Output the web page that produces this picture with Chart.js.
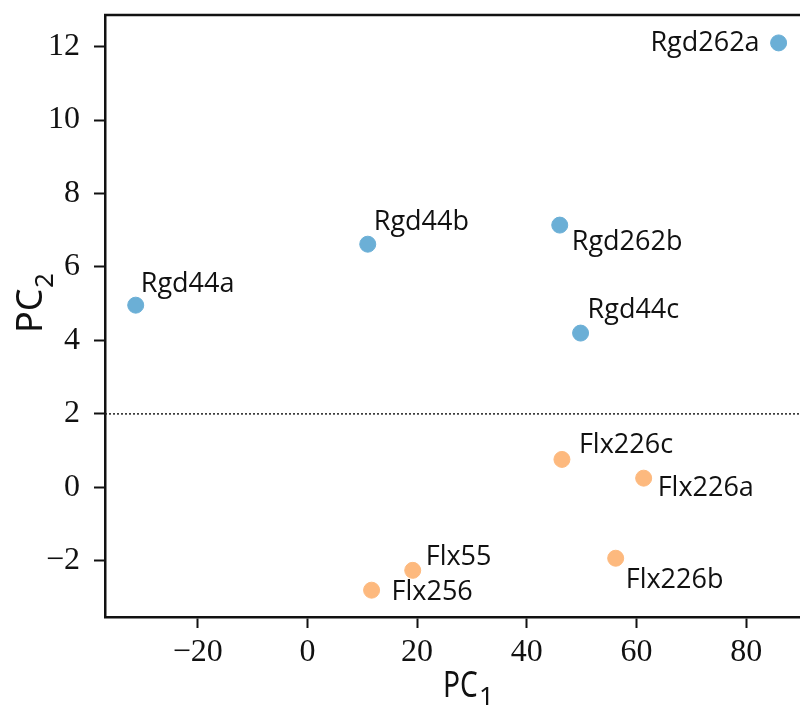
<!DOCTYPE html>
<html lang="en">
<head>
<meta charset="UTF-8">
<title>PCA scatter</title>
<script src="https://cdn.jsdelivr.net/npm/chart.js"></script>
<style>
  html, body { margin: 0; padding: 0; background: #fff; }
  #wrap { width: 800px; height: 706px; position: relative; }
</style>
</head>
<body>
<div id="wrap"><canvas id="pcaChart"></canvas></div>

<script>
// samples and their first two principal components
const rgdNames = ['Rgd262a', 'Rgd44b', 'Rgd262b', 'Rgd44a', 'Rgd44c'];
const rgdPC1   = [85.9, 11.0, 46.0, -31.3, 49.8];
const rgdPC2   = [12.1, 6.62, 7.14, 4.96, 4.2];

const flxNames = ['Flx226c', 'Flx226a', 'Flx226b', 'Flx55', 'Flx256'];
const flxPC1   = [46.4, 61.3, 56.2, 19.2, 11.7];
const flxPC2   = [0.76, 0.25, -1.93, -2.26, -2.8];

const threshold = 2.0;
const xTicks = [-20, 0, 20, 40, 60, 80];
const yTicks = [-2, 0, 2, 4, 6, 8, 10, 12];

// where each label sits relative to its point (px)
const labelOffset = {
  Rgd262a: [-19, 0, 'right'],
  Rgd44b:  [6, -22, 'left'],
  Rgd262b: [12, 17, 'left'],
  Rgd44a:  [5, -21, 'left'],
  Rgd44c:  [7, -23, 'left'],
  Flx226c: [17, -14, 'left'],
  Flx226a: [14, 10, 'left'],
  Flx226b: [10, 22, 'left'],
  Flx55:   [13, -13, 'left'],
  Flx256:  [20, 2, 'left']
};

const toPoints = (xs, ys) => xs.map((x, i) => ({ x: x, y: ys[i] }));

const labelPlugin = {
  id: 'pointLabels',
  afterDatasetsDraw(chart) {
    const ctx = chart.ctx;
    ctx.save();
    ctx.font = '27px "Open Sans", sans-serif';
    ctx.fillStyle = '#111';
    ctx.textBaseline = 'middle';
    chart.data.datasets.forEach((ds, di) => {
      const meta = chart.getDatasetMeta(di);
      meta.data.forEach((pt, i) => {
        const name = ds.names[i];
        const off = labelOffset[name];
        ctx.textAlign = off[2];
        ctx.fillText(name, pt.x + off[0], pt.y + off[1]);
      });
    });
    ctx.restore();
  }
};

const framePlugin = {
  id: 'frame',
  beforeDatasetsDraw(chart) {
    const { ctx, chartArea, scales } = chart;
    ctx.save();
    // dotted separation line
    const y = scales.y.getPixelForValue(threshold);
    ctx.strokeStyle = '#222';
    ctx.lineWidth = 1.5;
    ctx.setLineDash([2, 2]);
    ctx.beginPath();
    ctx.moveTo(chartArea.left, y);
    ctx.lineTo(chartArea.right, y);
    ctx.stroke();
    // top spine
    ctx.setLineDash([]);
    ctx.lineWidth = 2.5;
    ctx.strokeStyle = '#111';
    ctx.beginPath();
    ctx.moveTo(chartArea.left - 1, chartArea.top);
    ctx.lineTo(chartArea.right, chartArea.top);
    ctx.stroke();
    ctx.restore();
  },
  afterDraw(chart) {
    const ctx = chart.ctx;
    ctx.save();
    ctx.fillStyle = '#111';
    ctx.textBaseline = 'alphabetic';
    ctx.textAlign = 'left';
    // x title PC1
    ctx.save();
    ctx.translate(443, 697);
    ctx.scale(0.76, 1);
    ctx.font = '37px "Noto Sans", sans-serif';
    ctx.fillText('PC', 0, 0);
    ctx.restore();
    ctx.font = '26px "Noto Sans", sans-serif';
    ctx.fillText('1', 479, 705);
    // y title PC2
    ctx.translate(42, 300);
    ctx.rotate(-Math.PI / 2);
    ctx.font = '36px "Noto Sans", sans-serif';
    ctx.fillText('PC', -33, 0);
    ctx.font = '26px "Noto Sans", sans-serif';
    ctx.fillText('2', 12, 11);
    ctx.restore();
  }
};

const tickFmt = v => (v < 0 ? '\u2212' + Math.abs(v) : String(v));

new Chart(document.getElementById('pcaChart'), {
  type: 'scatter',
  data: {
    datasets: [
      {
        label: 'Rgd',
        names: rgdNames,
        data: toPoints(rgdPC1, rgdPC2),
        backgroundColor: '#6BAFD6',
        borderColor: '#6BAFD6',
        pointRadius: 8,
        pointHoverRadius: 8
      },
      {
        label: 'Flx',
        names: flxNames,
        data: toPoints(flxPC1, flxPC2),
        backgroundColor: '#FDB97E',
        borderColor: '#FDB97E',
        pointRadius: 8,
        pointHoverRadius: 8
      }
    ]
  },
  options: {
    responsive: true,
    maintainAspectRatio: false,
    animation: false,
    layout: { autoPadding: false, padding: { top: 15, left: 0, right: 0, bottom: 0 } },
    plugins: {
      legend: { display: false },
      tooltip: { enabled: false }
    },
    scales: {
      x: {
        type: 'linear',
        min: -36.9,
        max: 89.8,
        afterFit: s => { s.height = 89; s.paddingLeft = 0; s.paddingRight = 0; },
        afterBuildTicks: s => { s.ticks = xTicks.map(v => ({ value: v })); },
        border: { display: true, color: '#111', width: 2.5 },
        grid: { drawOnChartArea: false, drawTicks: true, tickLength: 11, tickWidth: 2, tickColor: '#111' },
        ticks: {
          padding: 5,
          maxRotation: 0,
          color: '#111',
          font: { family: '"Liberation Serif", serif', size: 32 },
          callback: tickFmt
        }
      },
      y: {
        type: 'linear',
        min: -3.53,
        max: 12.86,
        afterFit: s => { s.width = 105; s.paddingTop = 0; s.paddingBottom = 0; },
        afterBuildTicks: s => { s.ticks = yTicks.map(v => ({ value: v })); },
        border: { display: true, color: '#111', width: 2.5 },
        grid: { drawOnChartArea: false, drawTicks: true, tickLength: 11, tickWidth: 2, tickColor: '#111' },
        ticks: {
          padding: 14,
          color: '#111',
          font: { family: '"Liberation Serif", serif', size: 32 },
          callback: tickFmt
        }
      }
    }
  },
  plugins: [framePlugin, labelPlugin]
});
</script>
</body>
</html>
